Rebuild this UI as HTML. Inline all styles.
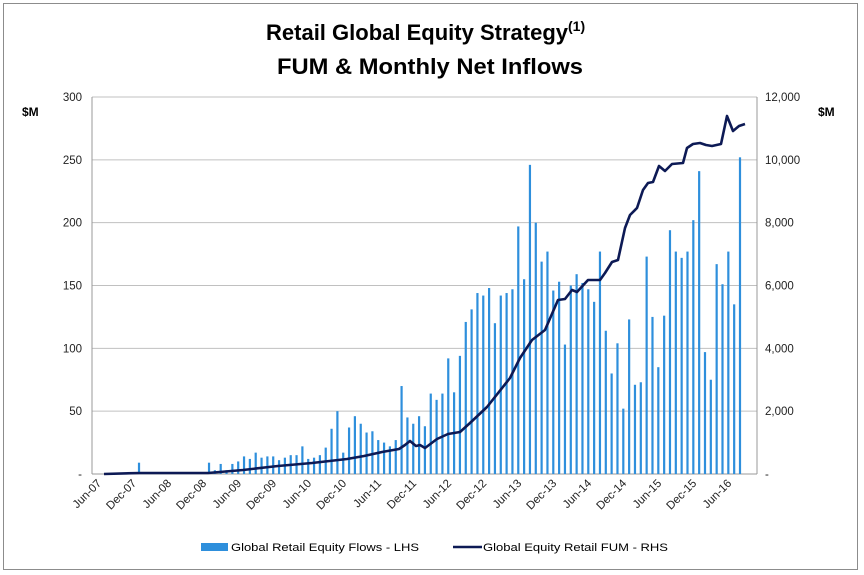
<!DOCTYPE html>
<html><head><meta charset="utf-8"><style>
body{margin:0;background:#fff}
svg{display:block;font-family:"Liberation Sans",sans-serif}
</style></head><body>
<svg id="s" width="864" height="575" xmlns="http://www.w3.org/2000/svg">
<rect x="3.5" y="3.5" width="854" height="566" fill="#fff" stroke="#8c8c8c" stroke-width="1"/>
<text x="266" y="40" font-size="22" font-weight="bold" fill="#000"><tspan textLength="302" lengthAdjust="spacingAndGlyphs">Retail Global Equity Strategy</tspan><tspan font-size="14" dy="-9">(1)</tspan></text>
<text x="277" y="74" font-size="22" font-weight="bold" fill="#000" textLength="306" lengthAdjust="spacingAndGlyphs">FUM &amp; Monthly Net Inflows</text>
<text x="22" y="116" font-size="12" font-weight="bold">$M</text>
<text x="818" y="116" font-size="12" font-weight="bold">$M</text>
<g id="grid"></g>
<g id="bars" fill="#2e8fdc"></g>
<polyline id="fum" fill="none" stroke="#0d1a55" stroke-width="2.6" stroke-linejoin="round"/>
<g id="lab" font-size="11.5" fill="#222"></g>
<rect x="201" y="543" width="27" height="8" fill="#2e8fdc"/>
<text x="231" y="551" font-size="11" textLength="188" lengthAdjust="spacingAndGlyphs">Global Retail Equity Flows - LHS</text>
<line x1="453" y1="547" x2="482" y2="547" stroke="#0d1a55" stroke-width="2.6"/>
<text x="483" y="551" font-size="11" textLength="185" lengthAdjust="spacingAndGlyphs">Global Equity Retail FUM - RHS</text>
</svg>
<script>
const NS="http://www.w3.org/2000/svg";
function el(t,a,p,txt){const e=document.createElementNS(NS,t);for(const k in a)e.setAttribute(k,a[k]);if(txt!==undefined)e.textContent=txt;document.getElementById(p).appendChild(e);return e;}
const y0=474,H=377,L=92,R=757;
for(let i=0;i<=6;i++){const y=y0-i*H/6;
 if(i>0)el('line',{x1:L,y1:y,x2:R,y2:y,stroke:'#c0c0c0','stroke-width':1},'grid');
 el('text',{x:82,y:y+4,'text-anchor':'end'},'lab',i==0?'-':String(i*50));
 el('text',{x:765,y:y+4},'lab',i==0?'-':(i*2).toString()+(i?',000':''));
}
el('line',{x1:L,y1:97,x2:L,y2:y0,stroke:'#999'},'grid');
el('line',{x1:R,y1:97,x2:R,y2:y0,stroke:'#999'},'grid');
el('line',{x1:L,y1:y0,x2:R,y2:y0,stroke:'#999'},'grid');
const early=[0,0,0,0,0,0,9,0.5,0.5,0.5,0.5,0.5,0.5,0.5,0.5,0.5,1,0.5];
const mid=[9,3,8,3,8,10,14,12,17,13,14,14,11,13,15,15,22,12,13,15,21,36,50,17,37,46,40,33,34,27,25,22,27,70,45,40];
const late=[46,38,64,59,64,92,65,94,121,131,144,142,148,120,142,144,147,197,155,246,200,169,177,146,153,103,150,159,152,147,137,177,114,80,104,52,123,71,73,173,125,85,126,194,177,172,177,202,241,97,75,167,151,177,135,252];
const v=early.concat(mid,late);
const dx=636/(v.length-1);
v.forEach((d,i)=>{const x=104+i*dx;const h=d*H/300;el('rect',{x:x-1.1,y:y0-h,width:2.2,height:h},'bars');});
const names=['Jun','Dec'];
for(let k=0;k<19;k++){const x=104+k*6*dx;const yr=7+Math.floor(k/2);
 el('text',{x:x-2,y:484,'text-anchor':'end',transform:`rotate(-45 ${x-2} 484)`},'lab',names[k%2]+'-'+String(yr).padStart(2,'0'));}
const pts=[[104,474],[140,473],[208,473],[243,470],[278,466],[312,463],[347,459],[364,456],[382,452],[399,449],[405,445],[410,441],[416,446],[420,445],[425,448],[437,439],[448,434],[460,432],[470,423],[487,407],[510,378],[520,358],[532,340],[545,330],[558,300],[565,299],[572,290],[577,292],[588,280],[600,280],[605,273],[612,262],[618,260],[625,228],[630,215],[637,208],[643,190],[648,183],[653,182],[659,166],[665,171],[672,164],[683,163],[687,148],[693,144],[700,143],[706,145],[712,146],[721,144],[727,116],[733,131],[739,126],[745,124]];
document.getElementById('fum').setAttribute('points',pts.map(p=>p.join(',')).join(' '));
</script>
</body></html>
